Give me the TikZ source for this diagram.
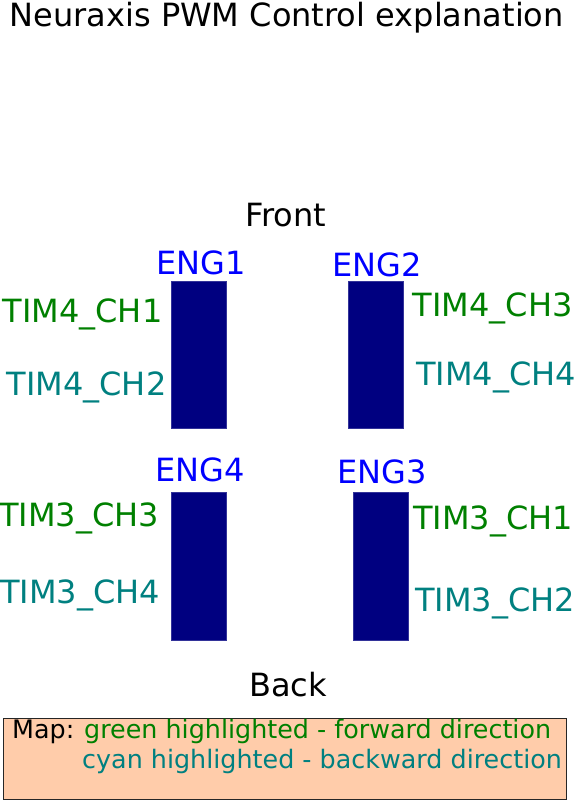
\documentclass[tikz,border=0pt]{standalone}
\usepackage{fontspec}
\setmainfont{DejaVu Sans}
\definecolor{fwd}{RGB}{0,128,0}
\definecolor{bwd}{RGB}{0,128,128}
\definecolor{engblue}{RGB}{0,0,255}
\definecolor{navyfill}{RGB}{0,0,128}
\definecolor{peach}{RGB}{255,204,170}
\begin{document}
\begin{tikzpicture}[x=1pt,y=-1pt,
  txt/.style={anchor=base west,inner sep=0pt,font=\fontsize{32}{38}\selectfont},
  fwdtxt/.style={txt,text=fwd},
  bwdtxt/.style={txt,text=bwd},
  engtxt/.style={txt,text=engblue},
  plaintxt/.style={txt,text=black},
  legtxt/.style={anchor=base west,inner sep=0pt,font=\fontsize{25.4}{30}\selectfont},
  motor/.style={fill=navyfill,draw=navyfill!80!white,line width=0.5pt}]
\useasboundingbox (0,0) rectangle (575,800);
% title
\node[plaintxt] (title) at (9.5,27) {Neuraxis PWM Control explanation};
\node[plaintxt] (front) at (245,226) {Front};
\node[plaintxt] (back) at (249,696) {Back};
% motors
\path[motor] (171,281) rectangle (226,428);
\node[inner sep=0pt] (m1) at (198.5,354.5) {};
\path[motor] (348,281) rectangle (403,428);
\node[inner sep=0pt] (m2) at (375.5,354.5) {};
\path[motor] (171,492) rectangle (226,640);
\node[inner sep=0pt] (m4) at (198.5,566) {};
\path[motor] (353,492) rectangle (408,640);
\node[inner sep=0pt] (m3) at (380.5,566) {};
% engine labels
\node[engtxt] (eng1) at (156,274) {ENG1};
\node[engtxt] (eng2) at (332,276) {ENG2};
\node[engtxt] (eng4) at (155,481) {ENG4};
\node[engtxt] (eng3) at (337,483) {ENG3};
% channel labels
\node[fwdtxt] (t4c1) at (2.5,322) {TIM4\_CH1};
\node[bwdtxt] (t4c2) at (6.5,395) {TIM4\_CH2};
\node[fwdtxt] (t4c3) at (412.5,316) {TIM4\_CH3};
\node[bwdtxt] (t4c4) at (416,385) {TIM4\_CH4};
\node[fwdtxt] (t3c3) at (-1,526) {TIM3\_CH3};
\node[bwdtxt] (t3c4) at (0,603) {TIM3\_CH4};
\node[fwdtxt] (t3c1) at (413,529) {TIM3\_CH1};
\node[bwdtxt] (t3c2) at (415,611) {TIM3\_CH2};
% legend
\path[fill=peach,draw=black!85,line width=0.8pt] (3.5,718.5) rectangle (566,799);
\node[legtxt,text=black] (map) at (12,738) {Map:};
\node[legtxt,text=fwd] (legf) at (84,738) {green highlighted - forward direction};
\node[legtxt,text=bwd] (legb) at (82,768) {cyan highlighted - backward direction};
\end{tikzpicture}
\end{document}
